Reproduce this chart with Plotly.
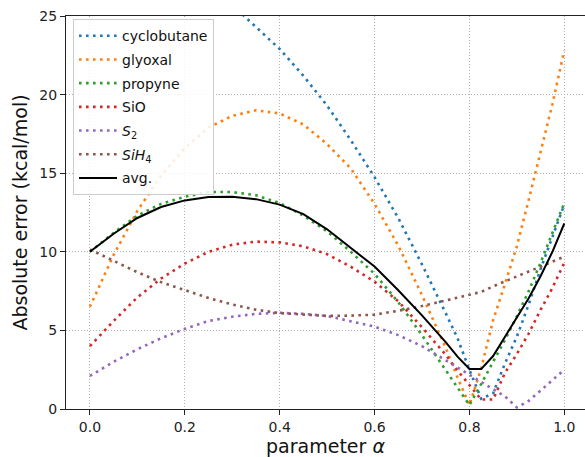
import plotly.graph_objects as go

alpha = [0.0, 0.05, 0.1, 0.15, 0.2, 0.25, 0.3, 0.35, 0.4, 0.45, 0.5, 0.55, 0.6, 0.65, 0.7,
         0.75, 0.775, 0.8, 0.825, 0.85, 0.875, 0.9, 0.925, 0.95, 0.975, 1.0]

cyclobutane = [None, None, None, None, None, None, 25.7, 24.3, 22.9, 21.2, 19.3, 17.1, 14.75, 12.15, 9.2,
               6.1, 4.5, 2.5, 0.65, 1.0, 2.9, 4.6, 6.65, 8.9, 11.0, 13.0]
glyoxal = [6.5, 9.8, 12.6, 14.85, 16.6, 17.9, 18.65, 19.0, 18.8, 18.1, 16.85, 15.3, 13.05, 10.4, 7.25,
           3.9, 2.0, 0.25, 2.6, 5.65, 7.95, 10.35, 13.3, 16.3, 19.4, 22.8]
propyne = [10.0, 11.2, 12.3, 13.05, 13.5, 13.8, 13.8, 13.6, 13.1, 12.3, 11.3, 10.0, 8.6, 6.8, 4.7,
           2.45, 1.3, 0.25, 1.6, 3.0, 4.4, 5.9, 7.5, 9.3, 11.25, 13.1]
sio = [4.0, 5.6, 7.1, 8.3, 9.25, 10.0, 10.45, 10.65, 10.6, 10.35, 9.85, 9.05, 8.1, 6.85, 5.2,
       3.45, 2.45, 1.55, 0.6, 0.6, 2.3, 3.5, 4.8, 6.3, 7.7, 9.3]
s2 = [2.1, 3.0, 3.8, 4.5, 5.1, 5.6, 5.87, 6.05, 6.12, 6.05, 5.92, 5.6, 5.24, 4.7, 4.0,
      3.1, 2.65, 2.2, 1.75, 1.3, 0.8, 0.1, 0.52, 1.17, 1.83, 2.5]
sih4 = [10.15, 9.42, 8.7, 8.07, 7.55, 7.06, 6.65, 6.32, 6.1, 6.0, 5.92, 5.94, 6.0, 6.25, 6.55,
        6.9, 7.07, 7.25, 7.45, 7.8, 8.1, 8.4, 8.75, 9.05, 9.38, 9.7]
avg = [10.0, 11.15, 12.15, 12.85, 13.27, 13.48, 13.5, 13.35, 13.0, 12.4, 11.43, 10.25, 9.06, 7.55, 5.96,
       4.25, 3.33, 2.55, 2.55, 3.37, 4.6, 5.75, 7.05, 8.45, 10.0, 11.8]

series = [
    ("cyclobutane", cyclobutane, "#1f77b4"),
    ("glyoxal", glyoxal, "#ff7f0e"),
    ("propyne", propyne, "#2ca02c"),
    ("SiO", sio, "#d62728"),
    ("<i>S</i><sub>2</sub>", s2, "#9467bd"),
    ("<i>SiH</i><sub>4</sub>", sih4, "#8c564b"),
]

x_ticks = [0.0, 0.2, 0.4, 0.6, 0.8, 1.0]
x_tick_labels = ["0.0", "0.2", "0.4", "0.6", "0.8", "1.0"]
y_ticks = [0, 5, 10, 15, 20, 25]

FONT = "DejaVu Sans"
fig = go.Figure()
for i, (name, vals, color) in enumerate(series):
    fig.add_trace(go.Scatter(
        x=alpha, y=vals, name=name, mode="lines", legendgroup=f"g{i}",
        line=dict(color=color, width=2.6, dash="2.6px,4.4px"),
    ))
fig.add_trace(go.Scatter(
    x=alpha, y=avg, name="avg.", mode="lines", legendgroup="g6",
    line=dict(color="black", width=2),
))

axis_common = dict(
    showline=True, linecolor="#222222", linewidth=1.2,
    ticks="outside", ticklen=5, tickwidth=1.2, tickcolor="#222222",
    showgrid=True, gridcolor="#b0b0b0", gridwidth=1, griddash="1px,2px",
    zeroline=False, tickfont=dict(family=FONT, size=14, color="#222222"),
)

fig.update_layout(
    width=585, height=457,
    margin=dict(l=66, r=0, t=16, b=48),
    paper_bgcolor="white", plot_bgcolor="white",
    font=dict(family=FONT, size=14, color="#111111"),
    showlegend=True,
    legend=dict(
        x=0.0135, y=0.992, xanchor="left", yanchor="top",
        bgcolor="rgba(255,255,255,0.85)", bordercolor="#cccccc", borderwidth=1,
        font=dict(family=FONT, size=14, color="#111111"),
        tracegroupgap=2.5, traceorder="grouped", itemwidth=38,
    ),
    xaxis=dict(
        range=[-0.0504, 1.0437], tickvals=x_ticks, ticktext=x_tick_labels,
        mirror=True,
        title=dict(text="parameter <i>α</i>", font=dict(family=FONT, size=19, color="#111111"), standoff=10),
        **axis_common,
    ),
    yaxis=dict(
        range=[0, 25], tickvals=y_ticks,
        title=dict(text="Absolute error (kcal/mol)", font=dict(family=FONT, size=19, color="#111111"), standoff=6),
        **axis_common,
    ),
)

fig.write_html("out.html")
